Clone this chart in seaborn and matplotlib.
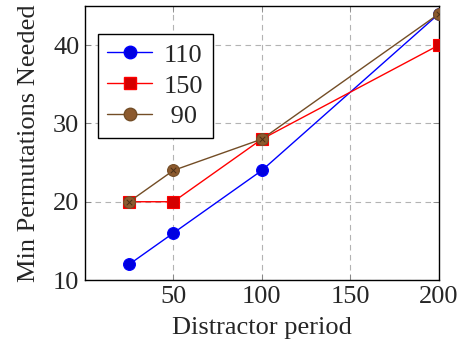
import matplotlib
matplotlib.use("Agg")
import matplotlib.pyplot as plt
import seaborn as sns
import pandas as pd
from matplotlib.lines import Line2D

periods = [25, 50, 100, 200]
s110 = [12, 16, 24, 44]
s150 = [20, 20, 28, 40]
s90 = [20, 24, 28, 44]
series_names = ["110", "150", "90"]
xticks = [50, 100, 150, 200]
yticks = [10, 20, 30, 40]

sns.set_theme(style="white")
plt.rcParams["font.family"] = ["Liberation Serif", "DejaVu Serif"]
plt.rcParams["mathtext.fontset"] = "stix"

rows = []
for name, vals in zip(series_names, [s110, s150, s90]):
    for x, y in zip(periods, vals):
        rows.append({"period": x, "perm": y, "series": name})
df = pd.DataFrame(rows)

colors = {"110": "#0000ff", "150": "#ff0000", "90": "#734d26"}
faces = {"110": "#0000e0", "150": "#d40000", "90": "#8c5a2e"}
markers = {"110": "o", "150": "s", "90": "o"}
msize = {"110": 8.5, "150": 8.0, "90": 8.5}

fig = plt.figure(figsize=(4.59, 3.54), dpi=100)
ax = fig.add_axes([0.185, 0.209, 0.771, 0.774])

for name in series_names:
    sub = df[df["series"] == name]
    sns.lineplot(data=sub, x="period", y="perm", ax=ax, color=colors[name],
                 marker=markers[name], markersize=msize[name],
                 markerfacecolor=faces[name], markeredgecolor=colors[name],
                 markeredgewidth=0.8, linewidth=1.0, legend=False, zorder=3)
    if name == "90":
        sns.scatterplot(data=sub, x="period", y="perm", ax=ax, marker="x",
                        s=16, color="#4a3018", linewidth=0.7, zorder=4,
                        legend=False)

ax.set_xlim(0, 200)
ax.set_ylim(10, 45)
ax.set_xticks(xticks)
ax.set_yticks(yticks)
ax.grid(True, linestyle=(0, (5, 4)), color="#b3b3b3", linewidth=0.8)
ax.set_axisbelow(True)
for sp in ax.spines.values():
    sp.set_color("black")
    sp.set_linewidth(1.0)
ax.tick_params(direction="in", length=4, width=0.6, color="#808080",
               labelsize=19, pad=4, bottom=True, left=True, top=True, right=True,
               labeltop=False, labelright=False)
ax.set_xlabel("Distractor period", fontsize=19, labelpad=7)
ax.set_ylabel("Min Permutations Needed", fontsize=19, labelpad=9)

handles = []
for name in series_names:
    handles.append(Line2D([0], [0], color=colors[name], marker=markers[name],
                          markersize=msize[name] + 0.5, markerfacecolor=faces[name],
                          markeredgecolor=colors[name], linewidth=1.0))
labels = [n if len(n) == 3 else " " + n for n in series_names]
leg = ax.legend(handles, labels, loc="upper left",
                bbox_to_anchor=(0.037, 0.898), borderaxespad=0, fontsize=19,
                frameon=True, fancybox=False, edgecolor="black", framealpha=1,
                handlelength=1.7, handletextpad=0.45, borderpad=0.35,
                labelspacing=0.28)
leg.get_frame().set_linewidth(1.0)

fig.savefig("out.png", dpi=100)
